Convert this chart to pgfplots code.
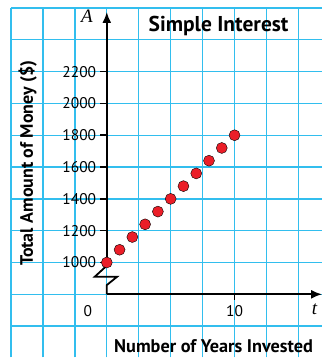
\documentclass[border=0pt]{standalone}
\usepackage{pgfplots}
\pgfplotsset{compat=1.18}
\usetikzlibrary{arrows.meta}
\usepackage{fontspec}
\setmainfont{PT Sans}
\newfontfamily\serifit{Liberation Serif}
\definecolor{gridblue}{RGB}{50,190,238}
\definecolor{dotred}{RGB}{235,30,40}
\begin{document}
\begin{tikzpicture}
\begin{axis}[
  name=ax,
  scale only axis,
  width=312pt, height=350pt,
  xmin=-7.5, xmax=16.875,
  ymin=404, ymax=2600,
  axis line style={draw=none},
  xtick=\empty, ytick=\empty,
  clip=false,
]
% grid
\pgfplotsinvokeforeach{-7.5,-5,-2.5,0,2.5,5,7.5,10,12.5,15}{
  \draw[gridblue, line width=1.4pt] (axis cs:#1,404) -- (axis cs:#1,2600);
}
\pgfplotsinvokeforeach{600,800,1000,1200,1400,1600,1800,2000,2200,2400,2600}{
  \draw[gridblue, line width=1.4pt] (axis cs:-7.5,#1) -- (axis cs:16.875,#1);
}
% axes
\draw[black, line width=1.8pt, -{Latex[length=11pt,width=9pt]}] (axis cs:0,800) -- (axis cs:16.85,800);
\draw[black, line width=1.8pt] (axis cs:0,800) -- (axis cs:0,858) -- (axis cs:0.8,910) -- (axis cs:-0.95,910) -- (axis cs:0,980) -- (axis cs:0,1000);
\draw[black, line width=1.8pt, -{Latex[length=11pt,width=9pt]}] (axis cs:0,1000) -- (axis cs:0,2575);
% ticks
\pgfplotsinvokeforeach{1000,1200,1400,1600,1800,2000,2200}{
  \draw[black, line width=1.5pt] (axis cs:0,#1) -- ([xshift=-7pt]axis cs:0,#1);
  \node[anchor=east, font=\fontsize{15.5}{15.5}\selectfont, inner sep=0pt] at ([xshift=-10.5pt]axis cs:0,#1) {#1};
}
\draw[black, line width=1.5pt] (axis cs:10,800) -- ([yshift=-6pt]axis cs:10,800);
\node[font=\fontsize{15.5}{15.5}\selectfont] at ([yshift=-17pt]axis cs:10,800) {10};
\node[font=\fontsize{15.5}{15.5}\selectfont] at ([xshift=-19pt,yshift=-17pt]axis cs:0,800) {0};
% axis letters
\node[font=\serifit\itshape\fontsize{19}{19}\selectfont] at ([xshift=-20pt]axis cs:0,2550) {A};
\node[font=\serifit\itshape\fontsize{19}{19}\selectfont] at ([xshift=-8pt,yshift=-15pt]axis cs:16.875,800) {t};
% titles
\node[anchor=base, font=\bfseries\fontsize{21.5}{21.5}\selectfont] at (axis cs:8.75,2452) {Simple Interest};
\node[anchor=base, font=\bfseries\fontsize{18.3}{18.3}\selectfont] at (axis cs:8.36,435) {Number of Years Invested};
\node[anchor=base, font=\bfseries\fontsize{18}{18}\selectfont, rotate=90] at (axis cs:-5.78,1624) {Total Amount of Money (\$)};
% data
\addplot[only marks, mark=*, mark size=5.5pt, mark options={draw=none, fill=dotred}]
  coordinates {(0,1000) (1,1080) (2,1160) (3,1240) (4,1320) (5,1400) (6,1480) (7,1560) (8,1640) (9,1720) (10,1800)};
\end{axis}
\path ([xshift=-11pt]ax.south west) -- ([yshift=8pt]ax.north east);
\end{tikzpicture}
\end{document}
